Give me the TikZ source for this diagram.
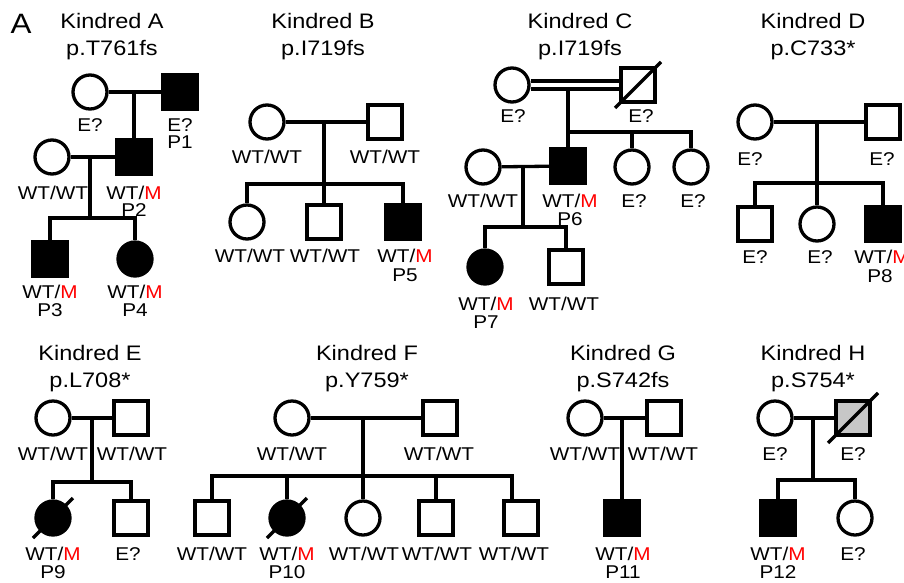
\documentclass[tikz,border=0pt]{standalone}
\usepackage{fontspec}
\setmainfont{Liberation Sans}[FakeStretch=1.12]
\usepackage{tikz}
\newcommand{\wtm}{WT/\textcolor{red}{M}}

\begin{document}
\begin{tikzpicture}[x=1pt,y=-1pt,line width=3.3pt,
  fem/.style={circle,draw,minimum size=34pt,inner sep=0pt},
  mal/.style={rectangle,draw,minimum size=34pt,inner sep=0pt},
  aff/.style={fill=black},
  lab/.style={anchor=base,inner sep=0pt,font=\fontsize{18.5}{20}\selectfont},
  ttl/.style={anchor=base,inner sep=0pt,font=\fontsize{21}{24}\selectfont}]
\useasboundingbox (0,0) rectangle (904,582);
\node [anchor=base,inner sep=0pt,font=\fontsize{28}{30}\selectfont] (pan) at (21,33) {A};
\node [ttl] (ta) at (112,28) {Kindred A};
\node [ttl] (ma) at (112,55) {p.T761fs};
\node [ttl] (tb) at (323,28) {Kindred B};
\node [ttl] (mb) at (323,55) {p.I719fs};
\node [ttl] (tc) at (580,28) {Kindred C};
\node [ttl] (mc) at (580,55) {p.I719fs};
\node [ttl] (td) at (813,28) {Kindred D};
\node [ttl] (md) at (813,55) {p.C733*};
\node [ttl] (te) at (90,360) {Kindred E};
\node [ttl] (me) at (90,387) {p.L708*};
\node [ttl] (tf) at (367,360) {Kindred F};
\node [ttl] (mf) at (367,387) {p.Y759*};
\node [ttl] (tg) at (623,360) {Kindred G};
\node [ttl] (mg) at (623,387) {p.S742fs};
\node [ttl] (th) at (813,360) {Kindred H};
\node [ttl] (mh) at (813,387) {p.S754*};

\node [fem] (a1) at (90,92) {};
\node [mal,aff] (a2) at (180,92) {};
\node [fem] (a3) at (52,157) {};
\node [mal,aff] (a4) at (134,157) {};
\node [mal,aff] (a5) at (50,259) {};
\node [fem,aff] (a6) at (135,259) {};
\coordinate (as) at (90,218);
\draw (a1) -- (a2);
\draw (a4) -- (a4 |- a1);
\draw (a3) -- (a4);
\draw (as |- a3) -- (as);
\draw (a5) |- (as) -| (a6);
\node [lab] (la1) at (90,131) {E?};
\node [lab] (la2) at (180,131) {E?};
\node [lab] (pa2) at (180,148) {P1};
\node [lab] (la3) at (53,199) {WT/WT};
\node [lab] (la4) at (134,199) {\wtm};
\node [lab] (pa4) at (134,216) {P2};
\node [lab] (la5) at (50,298) {\wtm};
\node [lab] (pa5) at (50,316) {P3};
\node [lab] (la6) at (135,298) {\wtm};
\node [lab] (pa6) at (135,316) {P4};

\node [fem] (b1) at (267,122) {};
\node [mal] (b2) at (385,122) {};
\node [fem] (b3) at (247,222) {};
\node [mal] (b4) at (324,222) {};
\node [mal,aff] (b5) at (403,222) {};
\coordinate (bs) at (324,184);
\draw (b1) -- (b2);
\draw (b4) -- (b4 |- b1);
\draw (b3) |- (bs) -| (b5);
\node [lab] (lb1) at (267,163) {WT/WT};
\node [lab] (lb2) at (385,163) {WT/WT};
\node [lab] (lb3) at (250,262) {WT/WT};
\node [lab] (lb4) at (325,262) {WT/WT};
\node [lab] (lb5) at (405,262) {\wtm};
\node [lab] (pb5) at (405,281) {P5};

\node [fem] (c1) at (512,85) {};
\node [mal] (c2) at (638,85) {};
\node [fem] (c3) at (483,167) {};
\node [mal,aff] (c4) at (568,166) {};
\node [fem] (c5) at (632,167) {};
\node [fem] (c6) at (691,167) {};
\node [fem,aff] (c7) at (485,267) {};
\node [mal] (c8) at (566,267) {};
\coordinate (cm) at (568,89);
\coordinate (cs) at (568,132);
\coordinate (ct) at (523,227);
\draw ([yshift=4pt]c1.east) -- ([yshift=4pt]c2.west);
\draw ([yshift=-4pt]c1.east) -- ([yshift=-4pt]c2.west);
\draw (c2) ++(-23,23) -- ++(46,-46);
\draw (c4) -- (cm);
\draw (cs) -| (c6);
\draw (c5) -- (c5 |- cs);
\draw (c3) -- (c4);
\draw (ct |- c3) -- (ct);
\draw (c7) |- (ct) -| (c8);
\node [lab] (lc1) at (513,122) {E?};
\node [lab] (lc2) at (641,122) {E?};
\node [lab] (lc3) at (483,207) {WT/WT};
\node [lab] (lc4) at (570,207) {\wtm};
\node [lab] (pc4) at (570,225) {P6};
\node [lab] (lc5) at (634,207) {E?};
\node [lab] (lc6) at (693,207) {E?};
\node [lab] (lc7) at (486,310) {\wtm};
\node [lab] (pc7) at (486,328) {P7};
\node [lab] (lc8) at (564,310) {WT/WT};

\node [fem] (d1) at (755,122) {};
\node [mal] (d2) at (883,122) {};
\node [mal] (d3) at (755,224) {};
\node [fem] (d4) at (817,224) {};
\node [mal,aff] (d5) at (883,224) {};
\coordinate (ds) at (817,183);
\draw (d1) -- (d2);
\draw (d4) -- (d4 |- d1);
\draw (d3) |- (ds) -| (d5);
\node [lab] (ld1) at (750,165) {E?};
\node [lab] (ld2) at (882,165) {E?};
\node [lab] (ld3) at (755,263) {E?};
\node [lab] (ld4) at (820,263) {E?};
\node [lab] (ld5) at (882,263) {\wtm};
\node [lab] (pd5) at (880,282) {P8};

\node [fem] (e1) at (53,418) {};
\node [mal] (e2) at (131,418) {};
\node [fem,aff] (e3) at (53,518) {};
\node [mal] (e4) at (131,518) {};
\coordinate (es) at (92,482);
\draw (e1) -- (e2);
\draw (es |- e1) -- (es);
\draw (e3) |- (es) -| (e4);
\draw (e3) ++(-20,20) -- ++(40,-40);
\node [lab] (le1) at (53,460) {WT/WT};
\node [lab] (le2) at (132,460) {WT/WT};
\node [lab] (le3) at (53,560) {\wtm};
\node [lab] (pe3) at (53,578) {P9};
\node [lab] (le4) at (128,560) {E?};

\node [fem] (f1) at (292,418) {};
\node [mal] (f2) at (440,418) {};
\node [mal] (f3) at (212,518) {};
\node [fem,aff] (f4) at (287,518) {};
\node [fem] (f5) at (363,518) {};
\node [mal] (f6) at (436,518) {};
\node [mal] (f7) at (521,518) {};
\coordinate (fs) at (363,476);
\coordinate (fe) at (512,476);
\draw (f1) -- (f2);
\draw (f5) -- (f5 |- f1);
\draw (f3) |- (fe) -- (fe |- f7.north);
\draw (f4) -- (f4 |- fs);
\draw (f6) -- (f6 |- fs);
\draw (f4) ++(-20,20) -- ++(40,-40);
\node [lab] (lf1) at (292,460) {WT/WT};
\node [lab] (lf2) at (439,460) {WT/WT};
\node [lab] (lf3) at (212,560) {WT/WT};
\node [lab] (lf4) at (287,560) {\wtm};
\node [lab] (pf4) at (287,578) {P10};
\node [lab] (lf5) at (364,560) {WT/WT};
\node [lab] (lf6) at (437,560) {WT/WT};
\node [lab] (lf7) at (514,560) {WT/WT};

\node [fem] (g1) at (585,418) {};
\node [mal] (g2) at (664,418) {};
\node [mal,aff] (g3) at (622,518) {};
\draw (g1) -- (g2);
\draw (g3) -- (g3 |- g1);
\node [lab] (lg1) at (585,460) {WT/WT};
\node [lab] (lg2) at (663,460) {WT/WT};
\node [lab] (lg3) at (623,560) {\wtm};
\node [lab] (pg3) at (623,578) {P11};

\node [fem] (h1) at (775,418) {};
\node [mal,fill=black!22] (h2) at (853,418) {};
\node [mal,aff] (h3) at (778,518) {};
\node [fem] (h4) at (855,518) {};
\coordinate (hs) at (813,480);
\draw (h1) -- (h2);
\draw (h2) ++(-25,25) -- ++(50,-50);
\draw (hs |- h1) -- (hs);
\draw (h3) |- (hs) -| (h4);
\node [lab] (lh1) at (775,460) {E?};
\node [lab] (lh2) at (853,460) {E?};
\node [lab] (lh3) at (778,560) {\wtm};
\node [lab] (ph3) at (778,578) {P12};
\node [lab] (lh4) at (853,560) {E?};
\end{tikzpicture}
\end{document}
